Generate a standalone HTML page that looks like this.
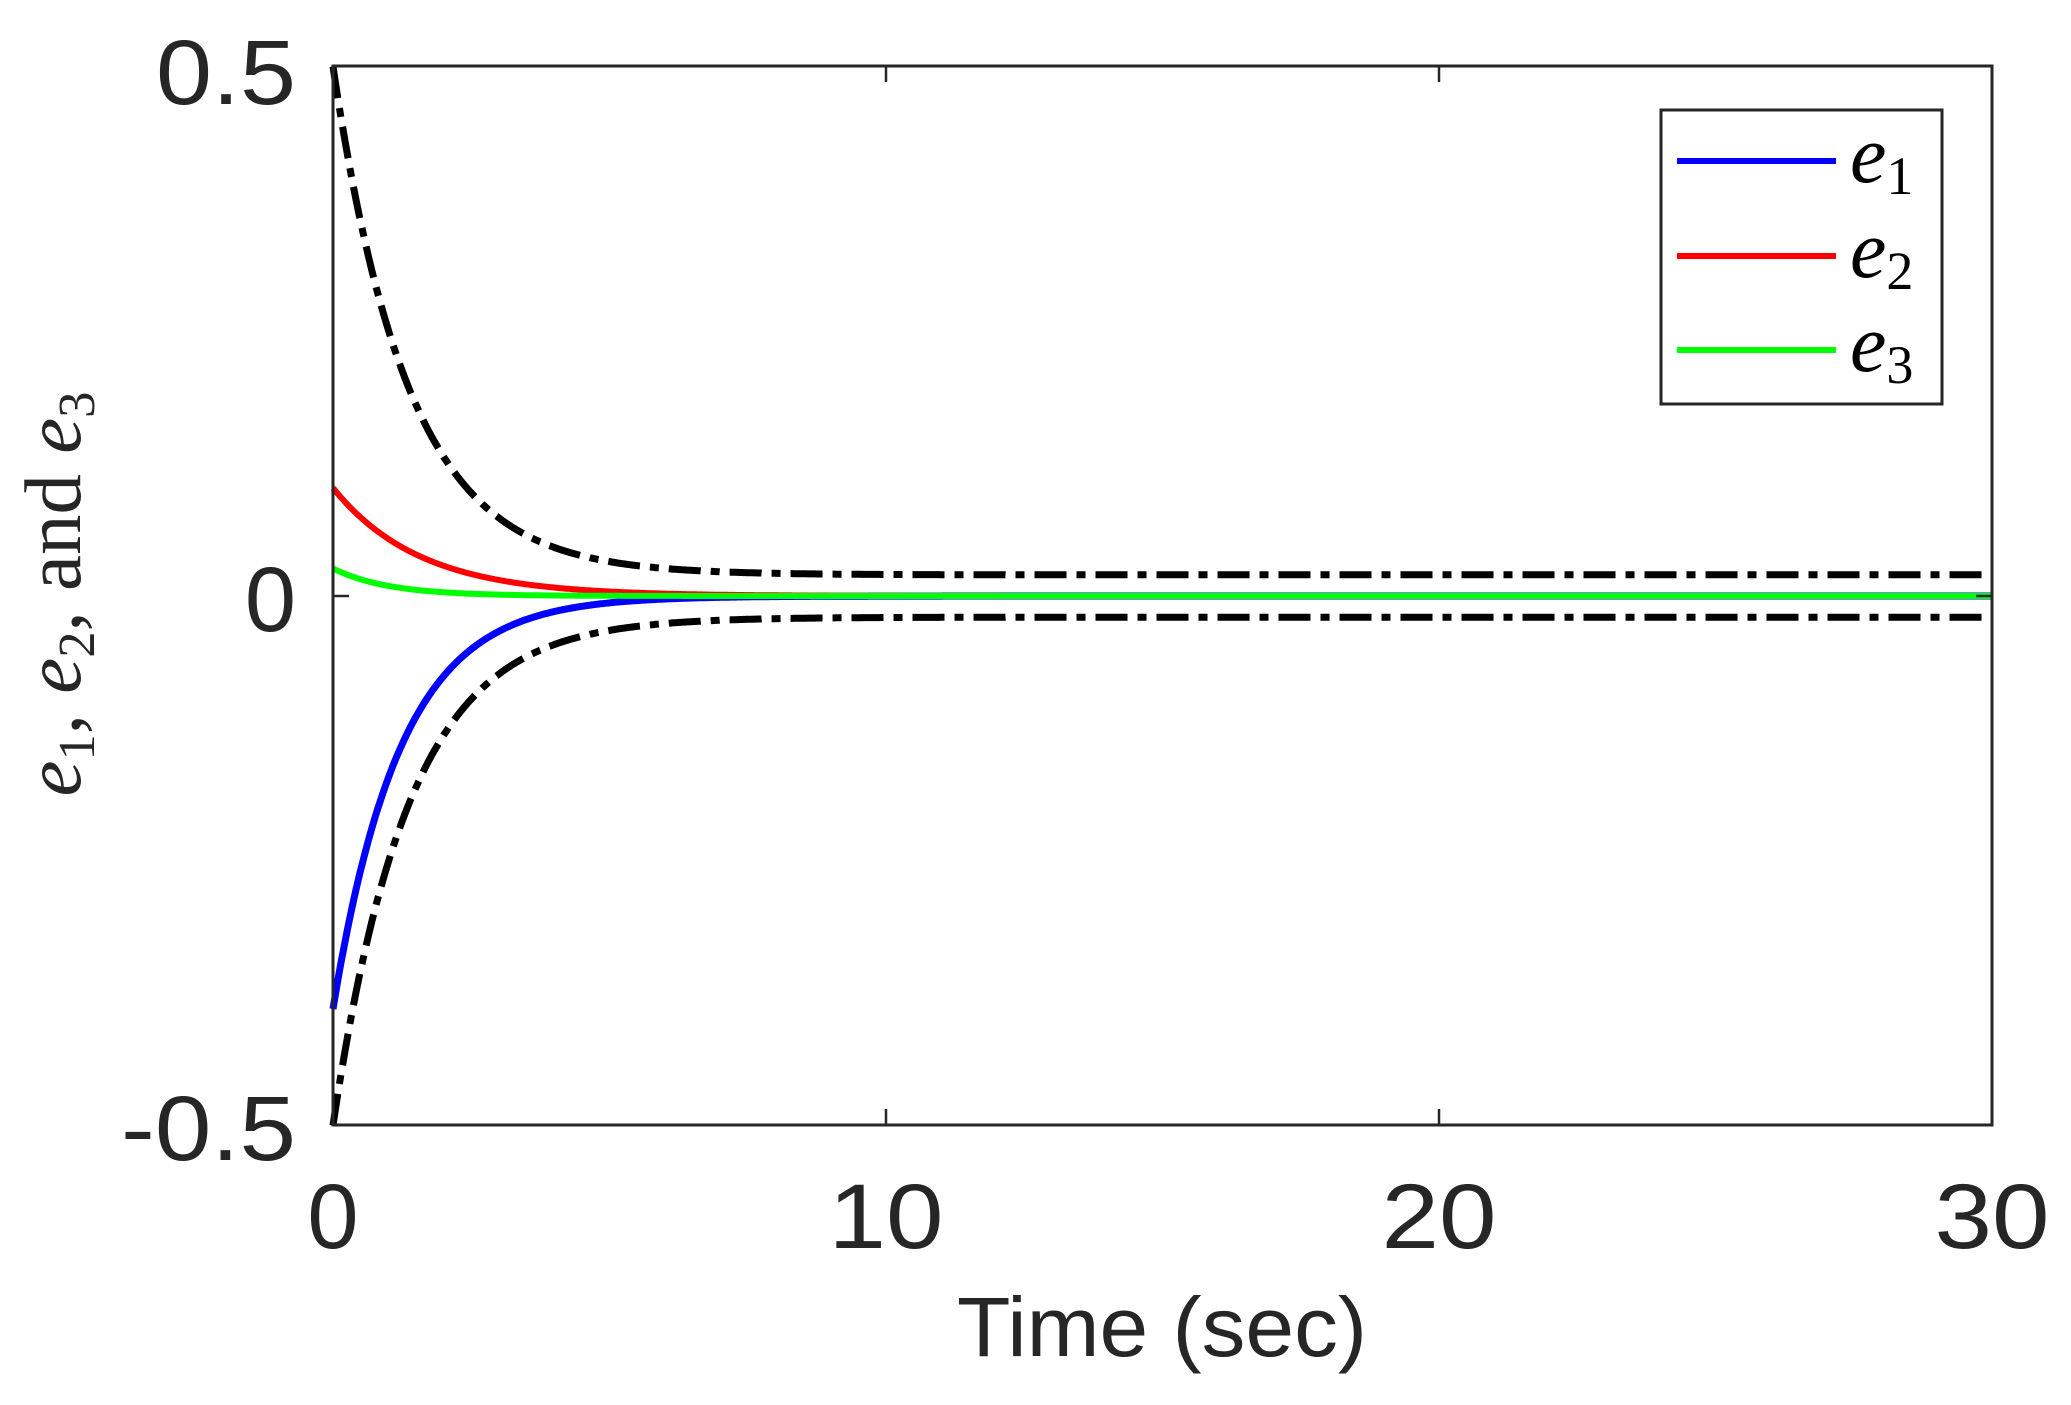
<!DOCTYPE html>
<html><head><meta charset="utf-8"><style>
html,body{margin:0;padding:0;background:#fff;}
svg{display:block;}
</style></head><body>
<svg id="s" width="2071" height="1405" xmlns="http://www.w3.org/2000/svg">
<rect width="2071" height="1405" fill="#fff"/>
<g id="data"></g>
<rect x="333" y="66" width="1659" height="1059" fill="none" stroke="#262626" stroke-width="3"/>
<g stroke="#262626" stroke-width="2.5">
<line x1="886" y1="1125" x2="886" y2="1109"/><line x1="1439" y1="1125" x2="1439" y2="1109"/>
<line x1="886" y1="66" x2="886" y2="82"/><line x1="1439" y1="66" x2="1439" y2="82"/>
<line x1="333" y1="596" x2="349" y2="596"/><line x1="1992" y1="596" x2="1976" y2="596"/>
</g>
<g font-family="Liberation Sans, sans-serif" font-size="92" fill="#262626" text-anchor="end">
<text x="296" y="104" textLength="140" lengthAdjust="spacingAndGlyphs">0.5</text>
<text x="296" y="631">0</text>
<text x="296" y="1160" textLength="175" lengthAdjust="spacingAndGlyphs">-0.5</text>
</g>
<g font-family="Liberation Sans, sans-serif" font-size="92" fill="#262626" text-anchor="middle">
<text x="333" y="1248">0</text>
<text x="886" y="1248" textLength="115" lengthAdjust="spacingAndGlyphs">10</text>
<text x="1439" y="1248" textLength="115" lengthAdjust="spacingAndGlyphs">20</text>
<text x="1992" y="1248" textLength="115" lengthAdjust="spacingAndGlyphs">30</text>
<text x="1162" y="1356" font-size="84" textLength="410" lengthAdjust="spacingAndGlyphs">Time (sec)</text>
</g>
<text transform="translate(80,594) rotate(-90)" text-anchor="middle" font-family="Liberation Serif, serif" font-size="80" fill="#262626" textLength="405" lengthAdjust="spacingAndGlyphs"><tspan font-style="italic">e</tspan><tspan font-size="52" dy="14">1</tspan><tspan dy="-14">, </tspan><tspan font-style="italic">e</tspan><tspan font-size="52" dy="14">2</tspan><tspan dy="-14">, and </tspan><tspan font-style="italic">e</tspan><tspan font-size="52" dy="14">3</tspan></text>
<rect x="1661" y="110" width="281" height="294" fill="#fff" stroke="#262626" stroke-width="3"/>
<g stroke-width="6">
<line x1="1677" y1="161" x2="1836" y2="161" stroke="#0000ff"/>
<line x1="1677" y1="256" x2="1836" y2="256" stroke="#ff0000"/>
<line x1="1677" y1="350" x2="1836" y2="350" stroke="#00ff00"/>
</g>
<g font-family="Liberation Serif, serif" fill="#000">
<text x="1850" y="182" font-size="82" font-style="italic">e<tspan font-style="normal" font-size="54" dy="12">1</tspan></text>
<text x="1850" y="277" font-size="82" font-style="italic">e<tspan font-style="normal" font-size="54" dy="12">2</tspan></text>
<text x="1850" y="371" font-size="82" font-style="italic">e<tspan font-style="normal" font-size="54" dy="12">3</tspan></text>
</g>
</svg>
<script>
var L=333,R=1992,T=66,B=1125;
function X(t){return L+(R-L)*t/30;}
function Y(v){return 596-(B-T)*v;}
function path(f){var d="";for(var i=0;i<=1500;i++){var t=i*30/1500;d+=(i?"L":"M")+X(t).toFixed(1)+" "+Y(f(t)).toFixed(1);}return d;}
var g=document.getElementById("data");
function add(f,col,w,dash){var p=document.createElementNS("http://www.w3.org/2000/svg","path");p.setAttribute("d",path(f));p.setAttribute("fill","none");p.setAttribute("stroke",col);p.setAttribute("stroke-width",w);if(dash)p.setAttribute("stroke-dasharray",dash);g.appendChild(p);}
add(function(t){return 0.48*Math.exp(-t/1.37)+0.02;},"#000",7,"32 10 9 10");
add(function(t){return -(0.48*Math.exp(-t/1.37)+0.02);},"#000",7,"32 10 9 10");
add(function(t){return -0.39*Math.exp(-t/1.22);},"#0000ff",7);
add(function(t){return 0.102*Math.exp(-t/1.57);},"#ff0000",6);
add(function(t){return 0.026*Math.exp(-t/1.0);},"#00ff00",6);
</script>
</body></html>
